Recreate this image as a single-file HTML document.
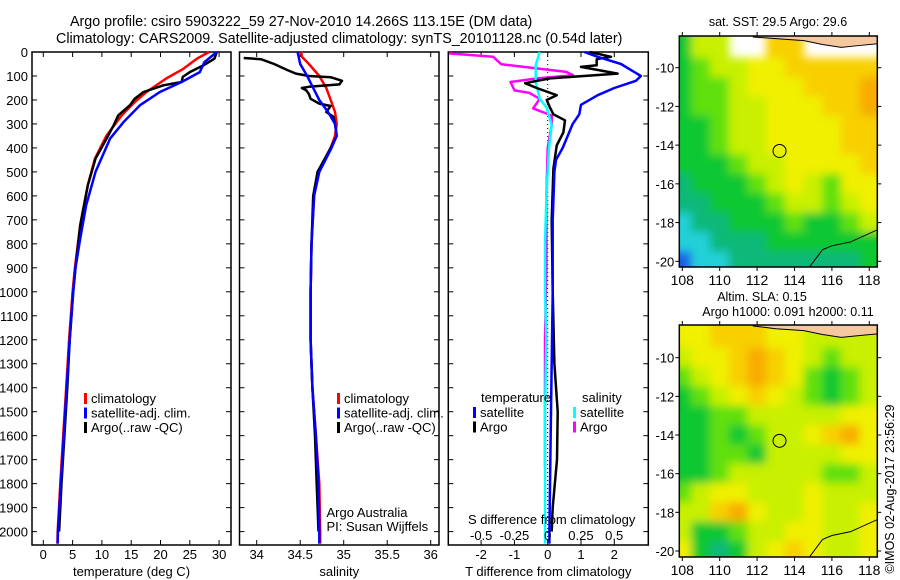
<!DOCTYPE html>
<html><head><meta charset="utf-8">
<style>
html,body{margin:0;padding:0;background:#fff;}
svg{display:block;font-family:"Liberation Sans",sans-serif;font-size:13px;}
</style></head>
<body>
<svg id="c" width="900" height="580" viewBox="0 0 900 580">
<defs><filter id="blur" x="-5%" y="-5%" width="110%" height="110%"><feGaussianBlur stdDeviation="4.5"/></filter></defs>
<text x="70" y="26" font-size="14.3">Argo profile: csiro 5903222_59 27-Nov-2010 14.266S 113.15E (DM data)</text>
<text x="56" y="43" font-size="14.3">Climatology: CARS2009. Satellite-adjusted climatology: synTS_20101128.nc (0.54d later)</text>
<text x="870" y="465" transform="rotate(-90 894 465)" text-anchor="middle" font-size="12.5">©IMOS 02-Aug-2017 23:56:29</text>
</svg>
<script>
// ---------- data ----------
const depthTicks=[0,100,200,300,400,500,600,700,800,900,1000,1100,1200,1300,1400,1500,1600,1700,1800,1900,2000];
const tempTicks=[0,5,10,15,20,25,30];
const salTicks=[34,34.5,35,35.5,36];
const salTickLabels=['34','34.5','35','35.5','36'];
const tdiffTicks=[-2,-1,0,1,2];
const sdiffTicks=[-0.5,-0.25,0,0.25,0.5];
const sdiffTickLabels=['-0.5','-0.25','0','0.25','0.5'];

const tClimDepth=[0,28,70,110,167,209,264,348,445,556,723,900,1000,1200,1400,1600,1800,2000,2050];
const tClimVal=[28.3,26.2,23.9,21,17.6,15.6,13.4,10.8,8.8,7.6,6.3,5.4,5.0,4.4,3.9,3.4,2.9,2.45,2.4];
const tSatDepth=[0,42,84,125,167,222,292,361,500,640,778,900,1000,1200,1400,1600,1800,2000,2050];
const tSatVal=[29.6,27.5,26.7,23.6,19.9,16.5,13.7,11.4,8.9,7.3,6.3,5.5,5.1,4.5,4.0,3.5,3.0,2.5,2.45];
const tArgoDepth=[0,28,56,84,104,125,139,167,195,222,264,306,361,445,556,723,900,1000,1200,1400,1600,1800,2000];
const tArgoVal=[29.6,29.2,27.3,25.0,23.8,23.6,20.5,17.1,15.6,14.8,12.8,12.0,10.8,8.9,7.6,6.3,5.5,5.1,4.5,4.1,3.6,3.1,2.7];

const sClimDepth=[0,20,50,100,150,200,250,300,350,400,450,500,600,800,1000,1200,1400,1600,1800,2000,2050];
const sClimVal=[34.51,34.52,34.6,34.72,34.8,34.85,34.9,34.92,34.9,34.85,34.78,34.7,34.66,34.63,34.62,34.62,34.64,34.68,34.72,34.73,34.73];
const sSatDepth=[0,50,100,150,200,250,300,350,400,500,600,800,1000,1200,1400,1600,1800,2000,2050];
const sSatVal=[34.47,34.5,34.58,34.65,34.72,34.82,34.9,34.92,34.86,34.72,34.66,34.63,34.62,34.62,34.64,34.68,34.71,34.72,34.72];
const sArgoDepth=[25,30,50,75,90,100,105,120,135,145,150,160,175,195,215,225,235,250,270,300,350,400,500,600,800,1000,1200,1400,1600,1800,1900,2000];
const sArgoVal=[33.85,34.05,34.2,34.35,34.45,34.6,34.85,34.98,34.95,34.6,34.52,34.57,34.6,34.62,34.72,34.85,34.83,34.8,34.88,34.9,34.92,34.85,34.7,34.65,34.63,34.62,34.62,34.64,34.67,34.69,34.7,34.71];

const dTSatDepth=[0,20,50,100,120,150,180,220,260,300,350,400,450,500,700,1000,1500,2000,2050];
const dTSatVal=[1.1,1.5,2.2,2.8,2.65,2.0,1.5,1.0,0.95,0.75,0.6,0.45,0.25,0.2,0.15,0.15,0.1,0.05,0.05];
const dTArgoDepth=[0,20,30,55,62,90,110,130,150,180,200,232,260,285,335,390,487,700,1000,1300,1500,1700,1900,2000];
const dTArgoVal=[1.27,1.9,1.47,1.47,1.0,2.1,0.07,-0.68,-0.33,0.27,-0.03,0.07,0.17,0.52,0.47,0.27,0.17,0.12,0.15,0.2,0.3,0.28,0.15,0.12];
const dSArgoDepth=[6,20,51,83,97,110,125,160,170,195,235,265,305,400,600,900,1200,1500,1730];
const dSArgoVal=[-0.75,-0.41,-0.35,0.14,0.19,-0.08,-0.28,-0.25,-0.14,-0.06,-0.11,0.03,0.03,0.0,-0.01,-0.01,-0.02,-0.02,-0.02];
const dSSatDepth=[0,55,125,195,230,305,400,600,800,1000,1200,1500,1800,2000,2050];
const dSSatVal=[-0.06,-0.09,-0.09,-0.06,-0.01,0.03,0.01,-0.01,-0.02,-0.02,-0.01,-0.02,-0.02,-0.02,-0.02];

const mapLats=[-9,-10,-11,-12,-13,-14,-15,-16,-17,-18,-19,-20];
const mapLons=[108,109,110,111,112,113,114,115,116,117,118];
const sstGrid=[
[3,5,5,-1,-1,7,7,-1,-1,-1,-1],
[3,4,5,5,6,6,7,7,7,7,7],
[3,4,4,5,6,6,6,7,7,7,8],
[3,4,4,5,5,6,6,6,7,7,8],
[3,3,4,5,5,6,6,6,6,7,7],
[3,3,4,5,5,6,6,6,6,7,7],
[3,3,3,4,5,5,6,6,6,6,7],
[2,3,3,3,4,5,6,5,4,6,6],
[2,2,3,3,3,4,5,5,4,5,6],
[1,2,2,3,3,3,4,3,3,4,5],
[1,1,2,2,2,3,3,3,3,3,3],
[0,1,1,2,2,2,2,2,2,2,3]];
const slaGrid=[
[6,6,7,7,7,6,6,5,5,5,5],
[5,6,6,7,8,7,6,5,4,5,5],
[4,5,6,7,8,7,6,4,3,4,5],
[3,4,5,6,7,6,5,4,3,4,5],
[3,3,4,4,5,5,5,5,5,6,6],
[3,3,4,3,4,5,5,6,7,8,6],
[3,3,4,4,3,5,5,5,5,6,6],
[3,3,4,5,5,5,5,5,4,4,5],
[4,5,6,6,5,5,5,6,5,5,5],
[5,5,7,8,6,5,5,6,5,5,6],
[5,3,3,4,5,5,6,6,5,5,6],
[6,3,2,3,5,6,7,6,5,5,6]];
const mapTicksLat=[-10,-12,-14,-16,-18,-20];
const mapTicksLon=[108,110,112,114,116,118];
const argoLon=113.2, argoLat=-14.3;

// ---------- helpers ----------
const svg=document.getElementById('c');
const NS='http://www.w3.org/2000/svg';
function mk(tag,attrs,parent){const e=document.createElementNS(NS,tag);for(const k in attrs)e.setAttribute(k,attrs[k]);(parent||svg).appendChild(e);return e;}
const Y=d=>52+d*0.2398;
const panelTop=52,panelBot=545;

function panel(name,x0,x1,xfun,ticks,labels,xtitle,showY){
  const g=mk('g',{});
  
  
  const r=mk('rect',{x:x0,y:panelTop,width:x1-x0,height:panelBot-panelTop,fill:'none',stroke:'#000','stroke-width':1.5},g);
  
  
  depthTicks.forEach(d=>{
    mk('line',{x1:x0,x2:x0+5,y1:Y(d),y2:Y(d),stroke:'#000'},g);
    mk('line',{x1:x1-5,x2:x1,y1:Y(d),y2:Y(d),stroke:'#000'},g);
    if(showY){const t=mk('text',{x:x0-4,y:Y(d)+5,'text-anchor':'end'},g);t.textContent=d;
      
      }
  });
  ticks.forEach((v,i)=>{
    const x=xfun(v);
    mk('line',{x1:x,x2:x,y1:panelTop,y2:panelTop+5,stroke:'#000'},g);
    mk('line',{x1:x,x2:x,y1:panelBot-5,y2:panelBot,stroke:'#000'},g);
    const t=mk('text',{x:x,y:559,'text-anchor':'middle'},g);t.textContent=labels?labels[i]:v;
    
    
  });
  const tt=mk('text',{x:(x0+x1)/2,y:576,'text-anchor':'middle'},g);tt.textContent=xtitle;
  
  
  return g;
}
function line(name,depths,vals,xfun,color,x0,x1){
  const pts=depths.map((d,i)=>Math.max(x0,Math.min(x1,xfun(vals[i]))).toFixed(1)+','+Y(d).toFixed(1)).join(' ');
  const p=mk('polyline',{points:pts,fill:'none',stroke:color,'stroke-width':2.5,'stroke-linejoin':'round'});
  
  
}
function legend(items,x,y){
  items.forEach((it,i)=>{
    const b=mk('rect',{x:x,y:y+i*14.5-5,width:3,height:11,fill:it[1]});
    
    
    const t=mk('text',{x:x+7,y:y+i*14.5+5});t.textContent=it[0];
    
    
  });
}

// ---------- panel 1: temperature ----------
const xT=v=>43.3+v*5.86;
panel('temperature-panel',32,231,xT,tempTicks,null,'temperature (deg C)',true);
line('temp-climatology',tClimDepth,tClimVal,xT,'#f00',32,231);
line('temp-argo',tArgoDepth,tArgoVal,xT,'#000',32,231);
line('temp-satellite-adj',tSatDepth,tSatVal,xT,'#00f',32,231);
legend([['climatology','#f00'],['satellite-adj. clim.','#00f'],['Argo(..raw -QC)','#000']],84,398);

// ---------- panel 2: salinity ----------
const xS=v=>256.7+(v-34)*87;
panel('salinity-panel',239.5,439,xS,salTicks,salTickLabels,'salinity',false);
line('sal-climatology',sClimDepth,sClimVal,xS,'#f00',240,439);
line('sal-argo',sArgoDepth,sArgoVal,xS,'#000',240,439);
line('sal-satellite-adj',sSatDepth,sSatVal,xS,'#00f',240,439);
legend([['climatology','#f00'],['satellite-adj. clim.','#00f'],['Argo(..raw -QC)','#000']],337,398);
{const t=mk('text',{x:326.5,y:517});t.textContent='Argo Australia';
 const t2=mk('text',{x:326.5,y:531});t2.textContent='PI: Susan Wijffels';}

// ---------- panel 3: differences ----------
const xD=v=>547.7+v*33.3;
const xDS=v=>547.7+v*133;
panel('difference-panel',448.3,648.3,xD,tdiffTicks,null,'T difference from climatology',false);
mk('line',{x1:547.7,x2:547.7,y1:panelTop,y2:panelBot,stroke:'#000','stroke-dasharray':'1,3'});
line('sdiff-argo',dSArgoDepth,dSArgoVal,xDS,'#f0f',449,648);
line('sdiff-satellite',dSSatDepth,dSSatVal,xDS,'#0ff',449,648);
line('tdiff-argo',dTArgoDepth,dTArgoVal,xD,'#000',449,648);
line('tdiff-satellite',dTSatDepth,dTSatVal,xD,'#00f',449,648);
sdiffTicks.forEach((v,i)=>{const t=mk('text',{x:xDS(v),y:540,'text-anchor':'middle'});t.textContent=sdiffTickLabels[i];
  });
{const t=mk('text',{x:468,y:524});t.textContent='S difference from climatology';}
{const t=mk('text',{x:481,y:402});t.textContent='temperature';
 const t2=mk('text',{x:582,y:402});t2.textContent='salinity';}
legend([['satellite','#00f'],['Argo','#000']],473,412);
legend([['satellite','#0ff'],['Argo','#f0f']],573,412);

// ---------- maps ----------
const colors=['#1a5ee8','#20d0d8','#10b878','#10c830','#60e010','#c8f000','#f0f000','#f8d000','#f8ac00'];
function map(name,grid,top,bot,latTop,latScale,titles){
  const x0=679.3,x1=877.3;
  const mx=lon=>682.3+(lon-108)*18.7;
  const my=lat=>latTop+(-10-lat)*latScale;
  const g=mk('g',{});
  
  
  const cid=name+'-clip';
  const cp=mk('clipPath',{id:cid},g);mk('rect',{x:x0,y:top,width:x1-x0,height:bot-top},cp);
  const cg=mk('g',{'clip-path':'url(#'+cid+')'},g);
  mk('rect',{x:x0,y:top,width:x1-x0,height:bot-top,fill:'#fff'},cg);
  const bg=mk('g',{filter:'url(#blur)'},cg);
  const nr=grid.length,nc=grid[0].length;
  grid.forEach((row,i)=>row.forEach((v,j)=>{
    if(v<0)return;
    let cx=mx(mapLons[j]-0.5)-0.3,cy=my(mapLats[i]+0.5)-0.3,w=18.7+0.6,h=latScale+0.6;
    if(j===0){cx-=15;w+=15;} if(j===nc-1){w+=15;}
    if(i===0){cy-=15;h+=15;} if(i===nr-1){h+=15;}
    const c=mk('rect',{x:cx,y:cy,width:w,height:h,fill:colors[v]},bg);
    
    
  }));
  // land strip at top right
  mk('polygon',{points:`${mx(111.8)},${top} ${mx(118.6)},${top} ${mx(118.6)},${my(-8.75)} ${mx(117.5)},${my(-8.85)} ${mx(116.5)},${my(-8.95)} ${mx(115.5)},${my(-8.8)} ${mx(114.5)},${my(-8.6)} ${mx(113)},${my(-8.5)} ${mx(111.8)},${top+1}`,fill:'#f5c8a0',stroke:'#000','stroke-width':1},cg);
  mk('polyline',{points:`${mx(114.8)},${bot} ${mx(115.5)},${my(-19.4)} ${mx(116)},${my(-19.2)} ${mx(117)},${my(-19.0)} ${mx(118.6)},${my(-18.3)}`,fill:'none',stroke:'#000','stroke-width':1},cg);
  const fr=mk('rect',{x:x0,y:top,width:x1-x0,height:bot-top,fill:'none',stroke:'#000','stroke-width':1.5},g);
  
  const ci=mk('circle',{cx:mx(argoLon),cy:my(argoLat),r:6.5,fill:'none',stroke:'#000','stroke-width':1},g);
  
  mapTicksLat.forEach(l=>{
    mk('line',{x1:x0-4,x2:x0,y1:my(l),y2:my(l),stroke:'#000'},g);
    mk('line',{x1:x1,x2:x1+4,y1:my(l),y2:my(l),stroke:'#000'},g);
    const t=mk('text',{x:x0-5,y:my(l)+5,'text-anchor':'end'},g);t.textContent=l;
    
  });
  mapTicksLon.forEach(l=>{
    mk('line',{x1:mx(l),x2:mx(l),y1:top-4,y2:top,stroke:'#000'},g);
    mk('line',{x1:mx(l),x2:mx(l),y1:bot,y2:bot+4,stroke:'#000'},g);
    const t=mk('text',{x:mx(l),y:bot+18,'text-anchor':'middle','font-size':'14'},g);t.textContent=l;
    
  });
  titles.forEach(tl=>{const t=mk('text',{x:tl[1],y:tl[2],'text-anchor':'middle','font-size':'12.5'},g);t.textContent=tl[0];
    });
}
map('sst-map',sstGrid,36,267,67.7,19.36,[['sat. SST: 29.5 Argo: 29.6',778,26]]);
map('sla-map',slaGrid,325,557,357.7,19.33,[['Altim. SLA: 0.15',762,301],['Argo h1000: 0.091 h2000: 0.11',788,316]]);
</script>
</body></html>
